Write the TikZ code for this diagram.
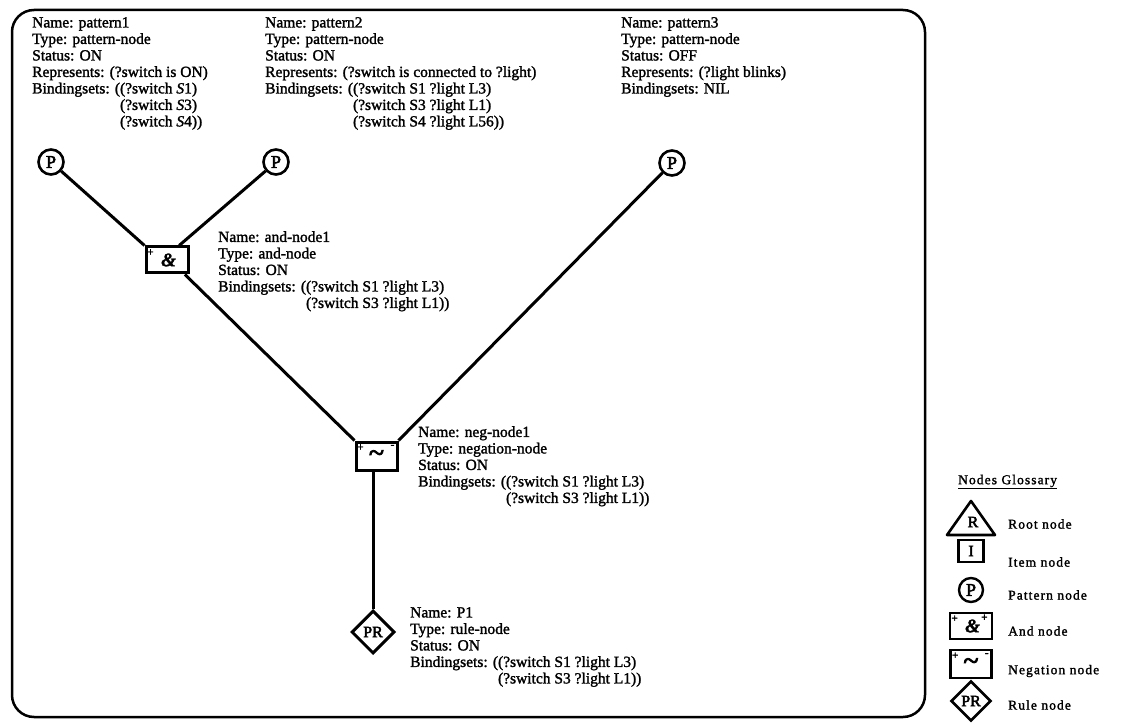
\documentclass[tikz,border=0pt]{standalone}
\usepackage{fontspec}
\setmainfont{Liberation Serif}[FakeBold=1.6]
\newfontfamily\glfont{Liberation Serif}[LetterSpace=8,FakeBold=1.6]
\newfontfamily\symfont{Liberation Serif}[FakeBold=3]
\usetikzlibrary{shapes.geometric,calc}

\tikzset{
  info/.style={anchor=north west, align=left, inner sep=0pt, font=\fontsize{15.5}{16.5}\selectfont},
  wire/.style={line width=3pt},
  frame/.style={line width=2.5pt, rounded corners=22pt},
  pnode/.style={circle, draw, line width=2.6pt, minimum size=25pt, inner sep=0pt, font=\fontsize{18}{18}\symfont},
  andbox/.style={rectangle, draw, line width=3pt, minimum width=42pt, minimum height=26pt, inner sep=0pt, font=\fontsize{19}{19}\bfseries\itshape},
  negbox/.style={rectangle, draw, line width=3pt, minimum width=41pt, minimum height=28pt, inner sep=0pt, font=\fontsize{28}{28}\symfont},
  rulenode/.style={diamond, draw, line width=3pt, minimum width=43pt, minimum height=43pt, inner sep=0pt, font=\fontsize{16}{16}\symfont},
  itembox/.style={rectangle, draw, line width=2.6pt, minimum width=25pt, minimum height=22pt, inner sep=0pt, font=\fontsize{16}{16}\symfont},
  tiny sign/.style={inner sep=0pt, font=\fontsize{11}{11}\symfont},
  gl/.style={anchor=west, inner sep=0pt, font=\fontsize{13.5}{13.5}\glfont},
  glshape/.style={line width=2.6pt, line join=round},
}

\begin{document}
\begin{tikzpicture}[x=1pt,y=-1pt]
\useasboundingbox (0,0) rectangle (1124,727);

% frame
\draw[frame] (12,10) rectangle (925,717);

% information blocks
\node[info] (t1) at (32,17) {Name: pattern1\\Type: pattern-node\\Status: ON\\Represents: (?switch is ON)\\Bindingsets: ((?switch \textit{S}1)\\\hphantom{Bindingsets: (}(?switch \textit{S}3)\\\hphantom{Bindingsets: (}(?switch \textit{S}4))};
\node[info] (t2) at (265,17) {Name: pattern2\\Type: pattern-node\\Status: ON\\Represents: (?switch is connected to ?light)\\Bindingsets: ((?switch S1 ?light L3)\\\hphantom{Bindingsets: (}(?switch S3 ?light L1)\\\hphantom{Bindingsets: (}(?switch S4 ?light L56))};
\node[info] (t3) at (621,17) {Name: pattern3\\Type: pattern-node\\Status: OFF\\Represents: (?light blinks)\\Bindingsets: NIL};
\node[info] (tand) at (218,231) {Name: and-node1\\Type: and-node\\Status: ON\\Bindingsets: ((?switch S1 ?light L3)\\\hphantom{Bindingsets: (}(?switch S3 ?light L1))};
\node[info] (tneg) at (418,426) {Name: neg-node1\\Type: negation-node\\Status: ON\\Bindingsets: ((?switch S1 ?light L3)\\\hphantom{Bindingsets: (}(?switch S3 ?light L1))};
\node[info] (trule) at (410,607) {Name: P1\\Type: rule-node\\Status: ON\\Bindingsets: ((?switch S1 ?light L3)\\\hphantom{Bindingsets: (}(?switch S3 ?light L1))};

% network nodes
\node[pnode] (p1) at (51,162) {P};
\node[pnode] (p2) at (276,162) {P};
\node[pnode] (p3) at (672,163) {P};
\node[andbox] (and) at (167,260) {\,\&};
\node[tiny sign] (andplus) at ($(and.north west)+(6,7)$) {+};
\node[negbox] (neg) at (376.5,456) {\char"7E};
\node[tiny sign] (negplus) at ($(neg.north west)+(6,7)$) {+};
\node[tiny sign] (negminus) at ($(neg.north east)+(-6,6)$) {-};
\node[rulenode] (rule) at (373,632) {PR};

% connectors
\draw[wire] (p1) -- (and.north west);
\draw[wire] (p2) -- (and.50);
\draw[wire] (and.-39) -- (neg.north west);
\draw[wire] (p3) -- (neg.north east);
\draw[wire] (neg.south -| rule.north) -- (rule.north);

% glossary
\node[gl] (glhead) at (958,482) {\underline{Nodes Glossary}};
\draw[glshape] (947,535) -- (995,535) -- (971,501) -- cycle;
\node[inner sep=0pt, font=\fontsize{16}{16}\symfont] (glR) at (973,522) {R};
\node[gl] (glroot) at (1008,524) {Root node};
\node[itembox] (glitem) at (971,551) {I};
\node[gl] (glitemt) at (1008,562) {Item node};
\node[pnode, line width=2.4pt, minimum size=24pt] (glpat) at (971,590) {P};
\node[gl] (glpatt) at (1008,595) {Pattern node};
\node[andbox, line width=2.6pt] (gland) at (971,626) {\,\&};
\node[tiny sign] (glandp1) at ($(gland.north west)+(6,7)$) {+};
\node[tiny sign] (glandp2) at ($(gland.north east)+(-9,6)$) {+};
\node[gl] (glandt) at (1008,631) {And node};
\node[negbox, line width=2.6pt] (glneg) at (971,664) {\char"7E};
\node[tiny sign] (glnegp) at ($(glneg.north west)+(6,7)$) {+};
\node[tiny sign] (glnegm) at ($(glneg.north east)+(-6,6)$) {-};
\node[gl] (glnegt) at (1008,671) {Negation node};
\node[rulenode, minimum width=40pt, minimum height=40pt, line width=2.6pt] (glrule) at (971,701) {PR};
\node[gl] (glrulet) at (1008,705) {Rule node};
\end{tikzpicture}
\end{document}
